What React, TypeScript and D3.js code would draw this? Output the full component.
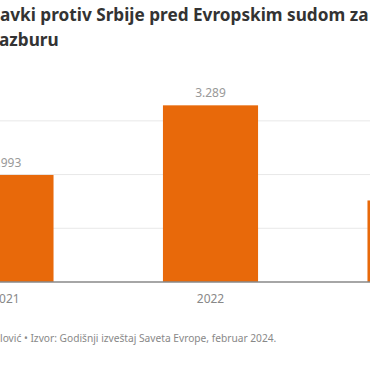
import React, { useEffect, useRef } from 'react';
import * as d3 from 'd3';

// Data
const years = ['2021', '2022', '2023'];
const applications = [1993, 3289, 1518];
const gridTicks = [1000, 2000, 3000];

const titleLines = ['avki protiv Srbije pred Evropskim sudom za', 'azburu'];
const sourceText = 'lović • Izvor: Godišnji izveštaj Saveta Evrope, februar 2024.';

const App: React.FC = () => {
    const chartRef = useRef<SVGSVGElement>(null);

    useEffect(() => {
        if (!chartRef.current) return;

        d3.select(chartRef.current).selectAll('*').remove();

        const width = 370;
        const height = 370;
        const baseline = 282;
        const font = '"Noto Sans", "Open Sans", sans-serif';

        const svg = d3.select(chartRef.current)
            .attr('width', width)
            .attr('height', height)
            .attr('viewBox', `0 0 ${width} ${height}`);

        svg.append('rect').attr('width', width).attr('height', height).attr('fill', '#fff');

        // Number format with dot as thousands separator
        const locale = d3.formatLocale({ decimal: ',', thousands: '.', grouping: [3], currency: ['', ''] });
        const fmt = locale.format(',d');

        // Scales (the chart is wider than the visible window)
        const xScale = d3.scaleBand()
            .domain(years)
            .range([-151, 572])
            .padding(0.535);

        const yScale = d3.scaleLinear()
            .domain([0, 3500])
            .range([baseline, 94]);

        // Title
        svg.append('g')
            .selectAll('text')
            .data(titleLines)
            .enter()
            .append('text')
            .attr('x', (_d, i) => (i === 0 ? 0 : -1))
            .attr('y', (_d, i) => 21 + i * 25)
            .attr('font-family', font)
            .attr('font-size', '17.2px')
            .attr('font-weight', 700)
            .attr('fill', '#333')
            .text(d => d);

        // Grid lines
        svg.append('g')
            .selectAll('line')
            .data(gridTicks)
            .enter()
            .append('line')
            .attr('x1', -200)
            .attr('x2', 600)
            .attr('y1', d => yScale(d))
            .attr('y2', d => yScale(d))
            .attr('stroke', '#e8e8e8')
            .attr('stroke-width', 1);

        // Bars
        svg.append('g')
            .selectAll('rect')
            .data(applications)
            .enter()
            .append('rect')
            .attr('x', (_d, i) => xScale(years[i]) as number)
            .attr('y', d => yScale(d))
            .attr('width', xScale.bandwidth())
            .attr('height', d => baseline - yScale(d))
            .attr('fill', '#e8690a');

        // Value labels
        svg.append('g')
            .selectAll('text')
            .data(applications)
            .enter()
            .append('text')
            .attr('x', (_d, i) => (xScale(years[i]) as number) + xScale.bandwidth() / 2)
            .attr('y', d => yScale(d) - 8)
            .attr('text-anchor', 'middle')
            .attr('font-family', font)
            .attr('font-size', '12px')
            .attr('fill', '#999')
            .text(d => fmt(d));

        // X axis
        const xAxis = svg.append('g')
            .attr('transform', `translate(0, ${baseline})`)
            .call(d3.axisBottom(xScale).tickSize(0).tickPadding(12));
        xAxis.select('.domain').remove();
        xAxis.selectAll('text')
            .attr('font-family', font)
            .attr('font-size', '12px')
            .attr('fill', '#888');

        svg.append('line')
            .attr('x1', -200)
            .attr('x2', 600)
            .attr('y1', baseline)
            .attr('y2', baseline)
            .attr('stroke', '#888')
            .attr('stroke-width', 1.5);

        // Source
        svg.append('text')
            .attr('x', 0)
            .attr('y', 342)
            .attr('font-family', font)
            .attr('font-size', '10.2px')
            .attr('fill', '#888')
            .text(sourceText);
    }, []);

    return (
        <svg ref={chartRef} style={{ position: 'absolute', left: 0, top: 0 }}></svg>
    );
};

export default App;
